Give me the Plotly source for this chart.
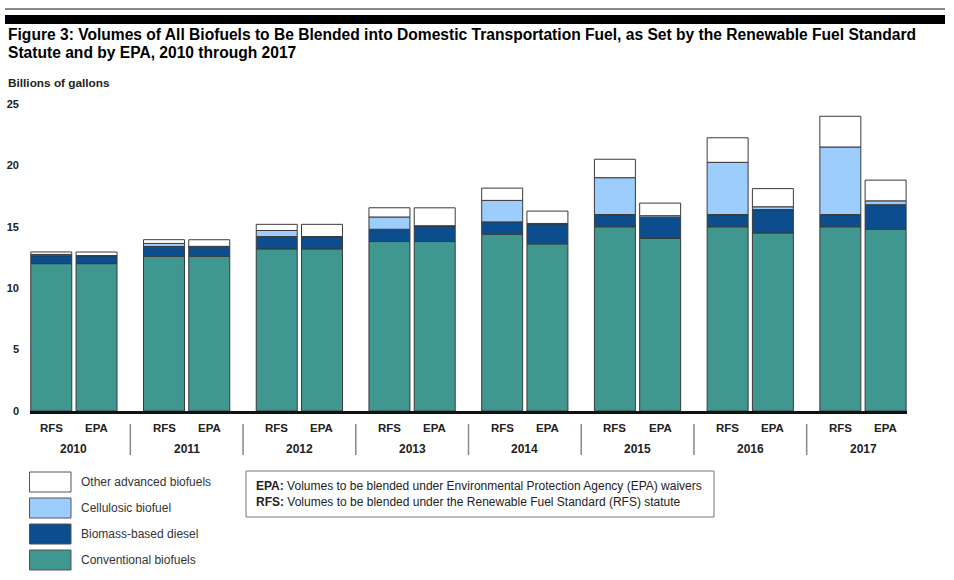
import plotly.graph_objects as go

# ---------------- data (billions of gallons) ----------------
years = ["2010", "2011", "2012", "2013", "2014", "2015", "2016", "2017"]
programs = ["RFS", "EPA"]

rfs_conventional = [12.0, 12.6, 13.2, 13.8, 14.4, 15.0, 15.0, 15.0]
rfs_biomass_diesel = [0.65, 0.8, 1.0, 1.0, 1.0, 1.0, 1.0, 1.0]
rfs_cellulosic = [0.1, 0.25, 0.5, 1.0, 1.75, 3.0, 4.25, 5.5]
rfs_other_advanced = [0.2, 0.3, 0.5, 0.75, 1.0, 1.5, 2.0, 2.5]

epa_conventional = [12.0, 12.6, 13.2, 13.8, 13.61, 14.05, 14.5, 14.8]
epa_biomass_diesel = [0.65, 0.8, 1.0, 1.28, 1.63, 1.73, 1.9, 2.0]
epa_cellulosic = [0.0065, 0.0066, 0.0105, 0.006, 0.033, 0.123, 0.23, 0.312]
epa_other_advanced = [0.29, 0.54, 0.99, 1.46, 1.007, 1.027, 1.48, 1.688]

series_names = ["Conventional biofuels", "Biomass-based diesel",
                "Cellulosic biofuel", "Other advanced biofuels"]
y_ticks = [0, 5, 10, 15, 20, 25]

title_lines = [
    "Figure 3: Volumes of All Biofuels to Be Blended into Domestic Transportation Fuel, as Set by the Renewable Fuel Standard",
    "Statute and by EPA, 2010 through 2017",
]

# ---------------- styling ----------------
colors = {
    "Conventional biofuels": "#3f978f",
    "Biomass-based diesel": "#0b4d8d",
    "Cellulosic biofuel": "#9dcdfc",
    "Other advanced biofuels": "#ffffff",
}
FONT = "Liberation Sans, Arial, sans-serif"
W, H = 954, 580
ML, MR, MT, MB = 30, 47, 104, 169
PW, PH = W - ML - MR, H - MT - MB
X_RANGE = [-0.28, 15.28]

def px(x):
    return (x - ML) / PW

def py(y):
    return (H - MB - y) / PH

def idx_to_paper(i):
    return (i - X_RANGE[0]) / (X_RANGE[1] - X_RANGE[0])

# interleave RFS / EPA per year
x_years = [yr for yr in years for _ in programs]
x_progs = [p for _ in years for p in programs]

pairs = {
    "Conventional biofuels": (rfs_conventional, epa_conventional),
    "Biomass-based diesel": (rfs_biomass_diesel, epa_biomass_diesel),
    "Cellulosic biofuel": (rfs_cellulosic, epa_cellulosic),
    "Other advanced biofuels": (rfs_other_advanced, epa_other_advanced),
}

bar_width = 0.727
offset_for = {"RFS": -0.266, "EPA": -0.463}

fig = go.Figure()
for name in series_names:
    rfs_vals, epa_vals = pairs[name]
    vals = []
    for r, e in zip(rfs_vals, epa_vals):
        vals += [r, e]
    fig.add_trace(go.Bar(
        x=[x_years, x_progs],
        y=vals,
        name=name,
        width=[bar_width] * len(vals),
        offset=[offset_for[p] for p in x_progs],
        marker=dict(color=colors[name], line=dict(color="#3a3a3a", width=1)),
        showlegend=False,
    ))

fig.update_layout(
    width=W, height=H,
    margin=dict(l=ML, r=MR, t=MT, b=MB, pad=0),
    barmode="relative",
    plot_bgcolor="white", paper_bgcolor="white",
    font=dict(family=FONT, color="#222"),
    xaxis=dict(
        type="multicategory",
        range=X_RANGE,
        automargin=False,
        showline=True, linecolor="#111", linewidth=3,
        ticks="", showgrid=False, zeroline=False,
        showticklabels=False, showdividers=False,
    ),
    yaxis=dict(
        range=[0, 25],
        automargin=False,
        tickvals=y_ticks,
        showgrid=False, zeroline=False, showline=False,
        ticks="", ticklabelstandoff=10,
        tickfont=dict(family=FONT, size=11, color="#222", weight="bold"),
    ),
)

annotations = [
    dict(text=f"<b>{title_lines[0]}</b>", x=px(6), y=py(35), xref="paper", yref="paper",
         xanchor="left", yanchor="middle", showarrow=False,
         font=dict(family=FONT, size=15.6, color="#000")),
    dict(text=f"<b>{title_lines[1]}</b>", x=px(6), y=py(53), xref="paper", yref="paper",
         xanchor="left", yanchor="middle", showarrow=False,
         font=dict(family=FONT, size=15.6, color="#000")),
    dict(text="<b>Billions of gallons</b>", x=px(6), y=py(83), xref="paper", yref="paper",
         xanchor="left", yanchor="middle", showarrow=False,
         font=dict(family=FONT, size=11.8, color="#222")),
    dict(text="<b>EPA:</b> Volumes to be blended under Environmental Protection Agency (EPA) waivers<br><b>RFS:</b> Volumes to be blended under the Renewable Fuel Standard (RFS) statute",
         x=px(254), y=py(494), xref="paper", yref="paper", xanchor="left", yanchor="middle",
         align="left", showarrow=False, font=dict(family=FONT, size=12, color="#222")),
]

shapes = [
    dict(type="line", xref="paper", yref="paper", x0=px(5), x1=px(945), y0=py(9), y1=py(9),
         line=dict(color="#111", width=1)),
    dict(type="rect", xref="paper", yref="paper", x0=px(5), x1=px(945), y0=py(15), y1=py(24),
         fillcolor="#000", line=dict(width=0)),
    dict(type="rect", xref="paper", yref="paper", x0=px(246), x1=px(714), y0=py(471), y1=py(517),
         fillcolor="white", line=dict(color="#777", width=1)),
]

# category labels (two rows) and group dividers beneath the axis
for k, yr in enumerate(years):
    for j, prog in enumerate(programs):
        i = 2 * k + j
        center = i + offset_for[prog] + bar_width / 2
        annotations.append(dict(text=f"<b>{prog}</b>", x=idx_to_paper(center), y=py(428),
                                xref="paper", yref="paper", xanchor="center", yanchor="middle",
                                showarrow=False, font=dict(family=FONT, size=11.5, color="#222")))
    annotations.append(dict(text=f"<b>{yr}</b>", x=idx_to_paper(2 * k + 0.5), y=py(449),
                            xref="paper", yref="paper", xanchor="center", yanchor="middle",
                            showarrow=False, font=dict(family=FONT, size=12, color="#222")))
    if k < len(years) - 1:
        xb = idx_to_paper(2 * k + 1.5)
        shapes.append(dict(type="line", xref="paper", yref="paper", x0=xb, x1=xb,
                           y0=py(424), y1=py(455), line=dict(color="#888", width=1.5)))

legend_order = ["Other advanced biofuels", "Cellulosic biofuel",
                "Biomass-based diesel", "Conventional biofuels"]
legend_tops = [472, 498, 524, 550]
for name, top in zip(legend_order, legend_tops):
    shapes.append(dict(type="rect", xref="paper", yref="paper",
                       x0=px(29.5), x1=px(71), y0=py(top), y1=py(top + 20),
                       fillcolor=colors[name], line=dict(color="#555", width=1)))
    annotations.append(dict(text=name, x=px(79), y=py(top + 10), xref="paper", yref="paper",
                            xanchor="left", yanchor="middle", showarrow=False,
                            font=dict(family=FONT, size=12, color="#333")))

fig.update_layout(annotations=annotations, shapes=shapes)
fig.write_html("out.html")
